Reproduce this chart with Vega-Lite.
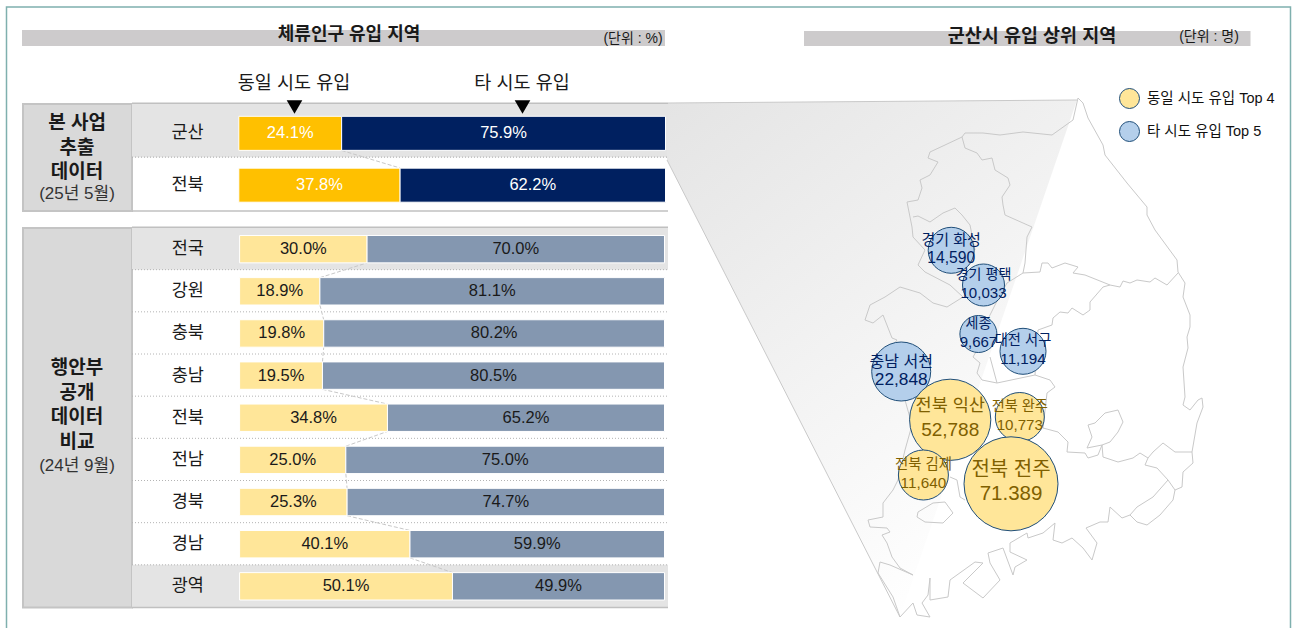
{"$schema":"https://vega.github.io/schema/vega-lite/v6.json","width":1292,"height":628,"autosize":{"type":"none"},"padding":0,"background":"white",
"config":{"view":{"stroke":null},"font":"Liberation Sans, Noto Sans CJK KR","axis":{"disable":true},"text":{"color":"#1a1a1a"}},
"resolve":{"scale":{"x":"independent","y":"independent","color":"independent","fill":"independent","size":"independent"}},
"layer":[
{"data":{"values":[{"part":"page"}]},"layer":[
{"mark":{"type":"rect","fill":null,"stroke":"#7fb0ae","strokeWidth":1.5},"encoding":{"x":{"datum":6.5,"type":"quantitative","scale":{"domain":[0,1292],"range":[0,1292],"nice":false}},"x2":{"datum":1290.5},"y":{"datum":7,"type":"quantitative","scale":{"domain":[0,628],"range":[0,628],"nice":false}},"y2":{"datum":650}}},
{"mark":{"type":"rect","fill":"#cdcbcc"},"encoding":{"x":{"datum":22,"type":"quantitative"},"x2":{"datum":665},"y":{"datum":30,"type":"quantitative"},"y2":{"datum":46}}},
{"mark":{"type":"rect","fill":"#cdcbcc"},"encoding":{"x":{"datum":804,"type":"quantitative"},"x2":{"datum":1250.5},"y":{"datum":31,"type":"quantitative"},"y2":{"datum":46}}},
{"mark":{"type":"rect","fill":"#d9d9d9","stroke":"#c4c4c4","strokeWidth":2},"encoding":{"x":{"datum":23,"type":"quantitative"},"x2":{"datum":132},"y":{"datum":104,"type":"quantitative"},"y2":{"datum":211}}},
{"mark":{"type":"rect","fill":"#d9d9d9","stroke":"#c4c4c4","strokeWidth":2},"encoding":{"x":{"datum":23,"type":"quantitative"},"x2":{"datum":132},"y":{"datum":228,"type":"quantitative"},"y2":{"datum":607.5}}},
{"data":{"values":[{"label":"체류인구 유입 지역"}]},"mark":{"type":"text","fontSize":18,"fontWeight":"bold","baseline":"middle"},"encoding":{"x":{"datum":349,"type":"quantitative"},"y":{"datum":35,"type":"quantitative"},"text":{"field":"label"}}},
{"data":{"values":[{"label":"(단위 : %)"}]},"mark":{"type":"text","fontSize":14,"baseline":"middle"},"encoding":{"x":{"datum":633,"type":"quantitative"},"y":{"datum":39,"type":"quantitative"},"text":{"field":"label"}}},
{"data":{"values":[{"label":"군산시 유입 상위 지역"}]},"mark":{"type":"text","fontSize":18.5,"fontWeight":"bold","baseline":"middle"},"encoding":{"x":{"datum":1032,"type":"quantitative"},"y":{"datum":36,"type":"quantitative"},"text":{"field":"label"}}},
{"data":{"values":[{"label":"(단위 : 명)"}]},"mark":{"type":"text","fontSize":14,"baseline":"middle"},"encoding":{"x":{"datum":1209,"type":"quantitative"},"y":{"datum":37,"type":"quantitative"},"text":{"field":"label"}}},
{"data":{"values":[{"label":"동일 시도 유입"}]},"mark":{"type":"text","fontSize":18.5,"baseline":"middle"},"encoding":{"x":{"datum":294,"type":"quantitative"},"y":{"datum":83,"type":"quantitative"},"text":{"field":"label"}}},
{"data":{"values":[{"label":"타 시도 유입"}]},"mark":{"type":"text","fontSize":18.5,"baseline":"middle"},"encoding":{"x":{"datum":522,"type":"quantitative"},"y":{"datum":83,"type":"quantitative"},"text":{"field":"label"}}},
{"data":{"values":[{"label":["본 사업","추출","데이터"]}]},"mark":{"type":"text","fontSize":19,"fontWeight":"bold","baseline":"middle","lineHeight":24.5},"encoding":{"x":{"datum":77,"type":"quantitative"},"y":{"datum":123,"type":"quantitative"},"text":{"field":"label"}}},
{"data":{"values":[{"label":"(25년 5월)"}]},"mark":{"type":"text","fontSize":17,"baseline":"middle","color":"#333"},"encoding":{"x":{"datum":77,"type":"quantitative"},"y":{"datum":194,"type":"quantitative"},"text":{"field":"label"}}},
{"data":{"values":[{"label":["행안부","공개","데이터","비교"]}]},"mark":{"type":"text","fontSize":19,"fontWeight":"bold","baseline":"middle","lineHeight":24.7},"encoding":{"x":{"datum":77,"type":"quantitative"},"y":{"datum":368,"type":"quantitative"},"text":{"field":"label"}}},
{"data":{"values":[{"label":"(24년 9월)"}]},"mark":{"type":"text","fontSize":17,"baseline":"middle","color":"#333"},"encoding":{"x":{"datum":77,"type":"quantitative"},"y":{"datum":466,"type":"quantitative"},"text":{"field":"label"}}}
]},
{"data":{"values":[{"region":"군산","shade":"y"},{"region":"전북","shade":"n"}]},
"encoding":{"y":{"field":"region","type":"nominal","scale":{"domain":["군산","전북"],"range":[103.3,211],"paddingInner":0,"paddingOuter":0}},"x":{"datum":132,"type":"quantitative","scale":{"domain":[0,1292],"range":[0,1292],"nice":false}},"x2":{"datum":668}},
"layer":[
{"transform":[{"filter":"datum.shade=='y'"}],"mark":{"type":"rect","fill":"#e4e4e4"}},
{"transform":[{"filter":"datum.region!='전북'"}],"mark":{"type":"rule","stroke":"#a8a8a8","strokeDash":[1,2],"strokeWidth":1},"encoding":{"y":{"field":"region","type":"nominal","bandPosition":1}}}
]},
{"data":{"values":[{"region":"전국","shade":"y"},{"region":"강원","shade":"n"},{"region":"충북","shade":"n"},{"region":"충남","shade":"n"},{"region":"전북","shade":"n"},{"region":"전남","shade":"n"},{"region":"경북","shade":"n"},{"region":"경남","shade":"n"},{"region":"광역","shade":"y"}]},
"encoding":{"y":{"field":"region","type":"nominal","scale":{"domain":["전국","강원","충북","충남","전북","전남","경북","경남","광역"],"range":[227.5,607],"paddingInner":0,"paddingOuter":0}},"x":{"datum":132,"type":"quantitative","scale":{"domain":[0,1292],"range":[0,1292],"nice":false}},"x2":{"datum":668}},
"layer":[
{"transform":[{"filter":"datum.shade=='y'"}],"mark":{"type":"rect","fill":"#e4e4e4"}},
{"transform":[{"filter":"datum.region!='광역'"}],"mark":{"type":"rule","stroke":"#b4b4b4","strokeDash":[1,2],"strokeWidth":1},"encoding":{"y":{"field":"region","type":"nominal","bandPosition":1}}}
]},
{"data":{"values":[{"part":"lines"}]},"layer":[
{"mark":{"type":"rule","stroke":"#c0c0c0","strokeWidth":1.5},"encoding":{"x":{"datum":132,"type":"quantitative","scale":{"domain":[0,1292],"range":[0,1292],"nice":false}},"x2":{"datum":668},"y":{"datum":103.3,"type":"quantitative","scale":{"domain":[0,628],"range":[0,628],"nice":false}}}},
{"mark":{"type":"rule","stroke":"#c0c0c0","strokeWidth":1.5},"encoding":{"x":{"datum":132,"type":"quantitative"},"x2":{"datum":668},"y":{"datum":211,"type":"quantitative"}}},
{"mark":{"type":"rule","stroke":"#c0c0c0","strokeWidth":1.5},"encoding":{"x":{"datum":132,"type":"quantitative"},"x2":{"datum":668},"y":{"datum":227.3,"type":"quantitative"}}},
{"mark":{"type":"rule","stroke":"#c0c0c0","strokeWidth":1.5},"encoding":{"x":{"datum":132,"type":"quantitative"},"x2":{"datum":668},"y":{"datum":607.5,"type":"quantitative"}}},
{"mark":{"type":"point","shape":"triangle-down","filled":true,"color":"black","size":243,"opacity":1},"encoding":{"x":{"datum":294.5,"type":"quantitative"},"y":{"datum":107,"type":"quantitative"}}},
{"mark":{"type":"point","shape":"triangle-down","filled":true,"color":"black","size":243,"opacity":1},"encoding":{"x":{"datum":522.5,"type":"quantitative"},"y":{"datum":107,"type":"quantitative"}}}
]},
{"data":{"values":[{"link":"a","row":0.33,"share":24.1},{"link":"a","row":0.67,"share":37.8}]},
"mark":{"type":"line","stroke":"#c8c8c8","strokeWidth":1,"strokeDash":[4,2]},
"encoding":{"x":{"field":"share","type":"quantitative","scale":{"domain":[0,100],"range":[238.8,665.5],"nice":false}},"y":{"field":"row","type":"quantitative","scale":{"domain":[0,1],"range":[133.4,185.1],"nice":false}},"detail":{"field":"link"}}},
{"data":{"values":[{"link":"a","row":0.325,"share":30.0},{"link":"a","row":0.675,"share":18.9},{"link":"b","row":1.325,"share":18.9},{"link":"b","row":1.675,"share":19.8},{"link":"c","row":2.325,"share":19.8},{"link":"c","row":2.675,"share":19.5},{"link":"d","row":3.325,"share":19.5},{"link":"d","row":3.675,"share":34.8},{"link":"e","row":4.325,"share":34.8},{"link":"e","row":4.675,"share":25.0},{"link":"f","row":5.325,"share":25.0},{"link":"f","row":5.675,"share":25.3},{"link":"g","row":6.325,"share":25.3},{"link":"g","row":6.675,"share":40.1},{"link":"h","row":7.325,"share":40.1},{"link":"h","row":7.675,"share":50.1}]},
"mark":{"type":"line","stroke":"#c8c8c8","strokeWidth":1,"strokeDash":[4,2]},
"encoding":{"x":{"field":"share","type":"quantitative","scale":{"domain":[0,100],"range":[239.6,664.5],"nice":false}},"y":{"field":"row","type":"quantitative","scale":{"domain":[0,8],"range":[249.2,586.3],"nice":false}},"detail":{"field":"link"}}},
{"data":{"values":[{"region":"군산","kind":"동일 시도","share":24.1},{"region":"군산","kind":"타 시도","share":75.9},{"region":"전북","kind":"동일 시도","share":37.8},{"region":"전북","kind":"타 시도","share":62.2}]},
"transform":[{"calculate":"format(datum.share,'.1f')+'%'","as":"pct"}],
"encoding":{"y":{"field":"region","type":"nominal","scale":{"domain":["군산","전북"],"range":[107.5,211],"paddingInner":0.343,"paddingOuter":0.17}}},
"layer":[
{"mark":{"type":"bar","stroke":"white","strokeWidth":1},"encoding":{"x":{"field":"share","type":"quantitative","stack":"zero","scale":{"domain":[0,100],"range":[238.8,665.5],"nice":false}},"color":{"field":"kind","type":"nominal","scale":{"domain":["동일 시도","타 시도"],"range":["#FFC000","#002060"]},"legend":null}}},
{"mark":{"type":"text","fontSize":16.5,"baseline":"middle","color":"white"},"encoding":{"x":{"field":"share","type":"quantitative","stack":"zero","bandPosition":0.5},"detail":{"field":"kind"},"order":{"field":"kind"},"text":{"field":"pct"}}},
{"transform":[{"filter":"datum.kind=='동일 시도'"}],"mark":{"type":"text","fontSize":17.5,"baseline":"middle"},"encoding":{"x":{"datum":-12,"type":"quantitative"},"text":{"field":"region"}}}
]},
{"data":{"values":[{"region":"전국","kind":"동일 시도","share":30.0},{"region":"전국","kind":"타 시도","share":70.0},{"region":"강원","kind":"동일 시도","share":18.9},{"region":"강원","kind":"타 시도","share":81.1},{"region":"충북","kind":"동일 시도","share":19.8},{"region":"충북","kind":"타 시도","share":80.2},{"region":"충남","kind":"동일 시도","share":19.5},{"region":"충남","kind":"타 시도","share":80.5},{"region":"전북","kind":"동일 시도","share":34.8},{"region":"전북","kind":"타 시도","share":65.2},{"region":"전남","kind":"동일 시도","share":25.0},{"region":"전남","kind":"타 시도","share":75.0},{"region":"경북","kind":"동일 시도","share":25.3},{"region":"경북","kind":"타 시도","share":74.7},{"region":"경남","kind":"동일 시도","share":40.1},{"region":"경남","kind":"타 시도","share":59.9},{"region":"광역","kind":"동일 시도","share":50.1},{"region":"광역","kind":"타 시도","share":49.9}]},
"transform":[{"calculate":"format(datum.share,'.1f')+'%'","as":"pct"}],
"encoding":{"y":{"field":"region","type":"nominal","scale":{"domain":["전국","강원","충북","충남","전북","전남","경북","경남","광역"],"range":[228.1,607.4],"paddingInner":0.35,"paddingOuter":0.175}}},
"layer":[
{"mark":{"type":"bar","stroke":"white","strokeWidth":1},"encoding":{"x":{"field":"share","type":"quantitative","stack":"zero","scale":{"domain":[0,100],"range":[239.6,664.5],"nice":false}},"color":{"field":"kind","type":"nominal","scale":{"domain":["동일 시도","타 시도"],"range":["#FFE699","#8497B0"]},"legend":null}}},
{"mark":{"type":"text","fontSize":16.5,"baseline":"middle","color":"#1a1a1a"},"encoding":{"x":{"field":"share","type":"quantitative","stack":"zero","bandPosition":0.5},"detail":{"field":"kind"},"order":{"field":"kind"},"text":{"field":"pct"}}},
{"transform":[{"filter":"datum.kind=='동일 시도'"}],"mark":{"type":"text","fontSize":17.5,"baseline":"middle"},"encoding":{"x":{"datum":-12.2,"type":"quantitative"},"text":{"field":"region"}}}
]},
{"resolve":{"scale":{"size":"independent"}},
"layer":[
{"data":{"values":[{"type":"Feature","properties":{"name":"spotlight"},"geometry":{"type":"Polygon","coordinates":[[[-132,517],[277,520],[100,3],[-133,460],[-132,517]]]}}]},
"mark":{"type":"geoshape","stroke":null,"fill":{"gradient":"linear","x1":0,"y1":0,"x2":0.6,"y2":1,"stops":[{"offset":0,"color":"#e4e4e4"},{"offset":1,"color":"#ffffff"}]}},
"projection":{"type":"identity","reflectY":true,"scale":1,"translate":[800,620]}},
{"data":{"values":[
{"type":"Feature","properties":{"name":"spotlight edges"},"geometry":{"type":"MultiLineString","coordinates":[[[-132,517],[277,520]],[[-133,460],[100,3]]]}},
{"type":"Feature","properties":{"name":"coast"},"geometry":{"type":"LineString","coordinates":[[278,522],[283,517],[288,502],[303,475],[305,465],[327,437],[347,413],[347,405],[355,390],[377,360],[378,348],[385,337],[383,323],[390,305],[390,293],[387,283],[388,272],[383,253],[385,223],[383,215],[390,210],[398,220],[402,222],[403,213],[397,197],[392,168],[393,157],[383,148],[382,133],[375,130],[373,120],[360,105],[347,95],[337,98],[330,105],[322,102],[310,113],[308,98],[300,98],[286,92],[297,77],[292,60],[283,72],[272,82],[262,77],[253,80],[255,97],[243,87],[228,82],[227,87],[210,77],[210,68],[227,60],[215,53],[213,45],[203,72],[188,67],[190,57],[200,40],[183,22],[163,37],[183,57],[175,58],[150,40],[148,23],[130,20],[130,42],[128,25],[122,17],[130,3],[117,5],[113,17],[100,3],[93,23],[78,47],[80,58],[90,55],[113,45],[100,52],[92,63],[87,77],[82,85],[90,88],[87,92],[70,93],[68,100],[83,103],[83,117],[93,130],[98,140],[105,170],[112,195],[105,220],[90,230],[85,265],[97,280],[92,282],[83,305],[73,297],[65,300],[70,315],[85,323],[100,333],[120,327],[133,317],[147,313],[163,323],[150,335],[125,348],[118,355],[125,370],[113,383],[112,393],[107,418],[118,420],[122,432],[120,440],[130,445],[138,458],[128,462],[130,468],[145,475],[162,483],[165,487],[183,487],[200,485],[223,488],[252,485],[273,500],[278,522]]}},
{"type":"Feature","properties":{"name":"inner"},"geometry":{"type":"MultiLineString","coordinates":[
[[113,403],[118,404],[130,398],[143,407],[155,412],[162,405],[170,395],[175,370]],
[[162,483],[165,472],[177,467],[182,460],[192,462],[195,450],[208,442],[210,435],[202,423],[203,415],[205,405],[232,393],[227,383],[225,357],[223,347],[240,348],[242,357],[248,357],[252,352],[265,357],[278,353],[273,347],[285,345],[310,335],[320,333],[323,339],[330,337],[337,340],[350,338],[355,342],[367,335],[378,347]],
[[223,347],[207,337],[195,315],[190,305],[178,280],[177,270],[173,263],[180,257],[177,247],[182,240],[197,237],[235,245],[250,240],[255,233],[247,227],[243,192],[258,188],[268,178],[267,168],[285,167],[288,162],[298,165],[302,175]],
[[310,335],[303,333],[290,318],[290,310],[283,305],[272,312],[268,307],[260,308],[253,302],[252,295],[238,290],[235,245]],
[[287,172],[292,183],[288,195],[295,197],[305,207],[318,210],[323,198],[318,188],[310,178],[302,175],[287,172]],
[[302,175],[303,163],[318,158],[333,162],[340,167],[348,162],[353,168],[363,177],[375,168],[392,168]],
[[348,162],[345,155],[357,152],[368,140],[375,130]],
[[368,140],[353,123],[337,113],[330,105]],
[[118,108],[133,117],[145,118],[153,107],[143,97],[125,98],[117,103],[118,108]],
[[150,143],[157,140],[160,123],[165,120]],
[[190,263],[197,237]]
]}}
]},
"mark":{"type":"geoshape","filled":false,"stroke":"#c9c9c9","strokeWidth":1},
"projection":{"type":"identity","reflectY":true,"scale":1,"translate":[800,620]}},
{"data":{"name":"bubbles","values":[
{"name":"충남 서천","group":"타 시도 유입 Top 5","people":22848,"east":101.2,"north":248.5},
{"name":"경기 화성","group":"타 시도 유입 Top 5","people":14590,"east":151.2,"north":369.7},
{"name":"경기 평택","group":"타 시도 유입 Top 5","people":10033,"east":183.5,"north":335},
{"name":"세종","group":"타 시도 유입 Top 5","people":9667,"east":178.4,"north":286},
{"name":"대전 서구","group":"타 시도 유입 Top 5","people":11194,"east":223,"north":268.7},
{"name":"전북 익산","group":"동일 시도 유입 Top 4","people":52788,"east":150.2,"north":200.2},
{"name":"전북 완주","group":"동일 시도 유입 Top 4","people":10773,"east":219.8,"north":203},
{"name":"전북 김제","group":"동일 시도 유입 Top 4","people":11640,"east":123.4,"north":145},
{"name":"전북 전주","group":"동일 시도 유입 Top 4","people":71389,"east":211,"north":136.2}
]},
"mark":{"type":"circle","stroke":"#1f4e79","strokeWidth":1,"opacity":1},
"encoding":{"x":{"field":"east","type":"quantitative","scale":{"domain":[0,500],"range":[800,1300],"nice":false}},"y":{"field":"north","type":"quantitative","scale":{"domain":[0,620],"range":[620,0],"nice":false}},
"size":{"field":"people","type":"quantitative","legend":null,"scale":{"domain":[9667,10033,10773,11194,11640,14590,22848,52788,71389],"range":[1369,1764,2401,2116,2500,2116,3481,6600,8836]}},
"fill":{"field":"group","type":"nominal","scale":{"domain":["동일 시도 유입 Top 4","타 시도 유입 Top 5"],"range":["#FFE699","#B4CFEB"]},"legend":{"orient":"none","legendX":1119,"legendY":88,"title":null,"symbolSize":400,"symbolType":"circle","symbolStrokeColor":"#1f4e79","symbolStrokeWidth":1,"symbolOpacity":1,"labelFontSize":14.5,"labelColor":"#111111","labelOffset":7,"rowPadding":8}}}},
{"data":{"name":"bubbles"},"transform":[{"filter":"datum.people<50000"}],"mark":{"type":"text","baseline":"middle","dy":-10},
"encoding":{"x":{"field":"east","type":"quantitative"},"y":{"field":"north","type":"quantitative"},"text":{"field":"name"},"size":{"field":"people","type":"quantitative","legend":null,"scale":{"domain":[9667,14590,22848],"range":[14,15,16]}},"color":{"field":"group","type":"nominal","legend":null,"scale":{"domain":["동일 시도 유입 Top 4","타 시도 유입 Top 5"],"range":["#7F6000","#002060"]}}}},
{"data":{"name":"bubbles"},"transform":[{"filter":"datum.people<50000"}],"mark":{"type":"text","baseline":"middle","dy":8},
"encoding":{"x":{"field":"east","type":"quantitative"},"y":{"field":"north","type":"quantitative"},"text":{"field":"people","format":","},"size":{"field":"people","type":"quantitative","legend":null,"scale":{"domain":[9667,14590,22848],"range":[15,15.7,17.3]}},"color":{"field":"group","type":"nominal","legend":null}}},
{"data":{"name":"bubbles"},"transform":[{"filter":"datum.people>=50000"}],"mark":{"type":"text","baseline":"middle","dy":-14},
"encoding":{"x":{"field":"east","type":"quantitative"},"y":{"field":"north","type":"quantitative"},"text":{"field":"name"},"size":{"field":"people","type":"quantitative","legend":null,"scale":{"domain":[52788,71389],"range":[17.5,20]}},"color":{"field":"group","type":"nominal","legend":null}}},
{"data":{"name":"bubbles"},"transform":[{"filter":"datum.people>=50000"},{"calculate":"replace(format(datum.people,','),datum.people>60000?',':'#',datum.people>60000?'.':'#')","as":"shown"}],"mark":{"type":"text","baseline":"middle","dy":10},
"encoding":{"x":{"field":"east","type":"quantitative"},"y":{"field":"north","type":"quantitative"},"text":{"field":"shown"},"size":{"field":"people","type":"quantitative","legend":null,"scale":{"domain":[52788,71389],"range":[19,20.5]}},"color":{"field":"group","type":"nominal","legend":null}}}
]}
]}
